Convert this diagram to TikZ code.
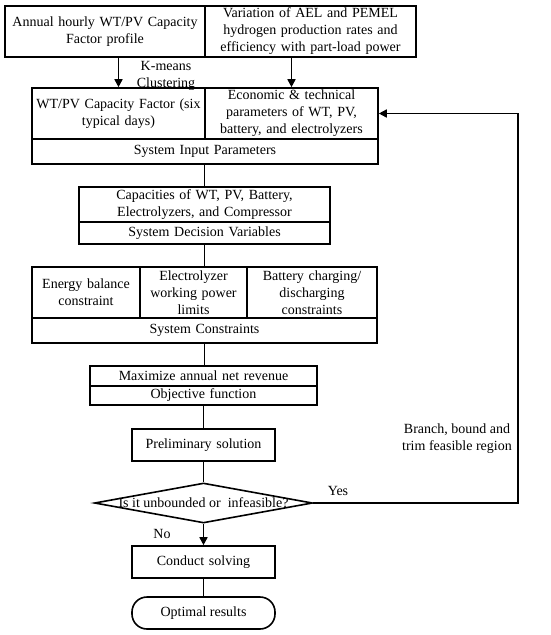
\documentclass[tikz,border=0pt]{standalone}
\usepackage{fontspec}
\setmainfont{Liberation Serif}
\usetikzlibrary{arrows.meta,shapes.geometric}
\begin{document}
\begin{tikzpicture}[x=1pt,y=-1pt,
  every node/.style={font=\fontsize{14}{17}\selectfont},
  cell/.style={draw,line width=1.6pt,inner sep=0pt,align=center,text width=#1-6pt,minimum width=#1},
  link/.style={line width=1.6pt},
  arr/.style={line width=1.6pt,-{Triangle[length=8pt,width=8pt]}},
  lbl/.style={inner sep=0pt,align=center}]
\useasboundingbox (0,0) rectangle (550,635);
% top row
\node[cell=200, minimum height=51] (tl) at (105,31.5) {Annual hourly WT/PV Capacity\\Factor profile};
\node[cell=211, minimum height=51] (tr) at (310.5,31.5) {Variation of AEL and PEMEL\\hydrogen production rates and\\efficiency with part-load power};
% input parameters
\node[cell=173, minimum height=51] (sl) at (118.5,113.5) {WT/PV Capacity Factor (six\\typical days)};
\node[cell=173, minimum height=51] (sr) at (291.5,113.5) {Economic \& technical\\parameters of WT, PV,\\battery, and electrolyzers};
\node[cell=346, minimum height=25] (sip) at (205,151.5) {System Input Parameters};
% decision variables
\node[cell=251, minimum height=35] (dv) at (204.5,204.5) {Capacities of WT, PV, Battery,\\Electrolyzers, and Compressor};
\node[cell=251, minimum height=22] (sdv) at (204.5,233) {System Decision Variables};
% constraints
\node[cell=108, minimum height=51] (c1) at (86,292.5) {Energy balance\\constraint};
\node[cell=107, minimum height=51] (c2) at (193.5,292.5) {Electrolyzer\\working power\\limits};
\node[cell=130, minimum height=51] (c3) at (312,292.5) {Battery charging/\\discharging\\constraints};
\node[cell=345, minimum height=25] (sc) at (204.5,330.5) {System Constraints};
% objective
\node[cell=227, minimum height=20] (obj) at (203.5,376) {Maximize annual net revenue};
\node[cell=227, minimum height=19] (of) at (203.5,395.5) {Objective function};
% preliminary
\node[cell=143, minimum height=32] (pre) at (203.5,445) {Preliminary solution};
% decision diamond
\node[draw,line width=1.6pt,diamond,inner sep=0pt,minimum width=218,minimum height=40] (dia) at (203.5,503) {};
\node[lbl] (diat) at (203.5,503) {Is it unbounded or\ \ infeasible?};
% conduct solving
\node[cell=143, minimum height=32] (cs) at (203.5,562) {Conduct solving};
\node[draw,line width=1.6pt,inner sep=0pt,minimum width=143,minimum height=32,rounded corners=15pt] (opt) at (203.5,613) {Optimal results};
% labels
\node[lbl] (km) at (166,75.5) {K-means\\Clustering};
\node[lbl] (yes) at (338,491) {Yes};
\node[lbl] (no) at (162,534) {No};
\node[lbl] (br) at (457,438.5) {Branch, bound and\\trim feasible region};
\coordinate (fbx) at (518,0);
% connectors
\draw[arr] (sl.north |- tl.south) -- (sl.north);
\draw[arr] (sr.north |- tr.south) -- (sr.north);
\draw[link] (dv.north |- sip.south) -- (dv.north);
\draw[link] (sdv.south) -- (sdv.south |- c2.north);
\draw[link] (sc.south) -- (sc.south |- obj.north);
\draw[link] (of.south) -- (pre.north);
\draw[link] (pre.south) -- (dia.north);
\draw[arr] (dia.south) -- (cs.north);
\draw[link] (cs.south) -- (opt.north);
\draw[arr] (dia.east) -- (dia.east -| fbx) |- (sr.east);
\end{tikzpicture}
\end{document}
